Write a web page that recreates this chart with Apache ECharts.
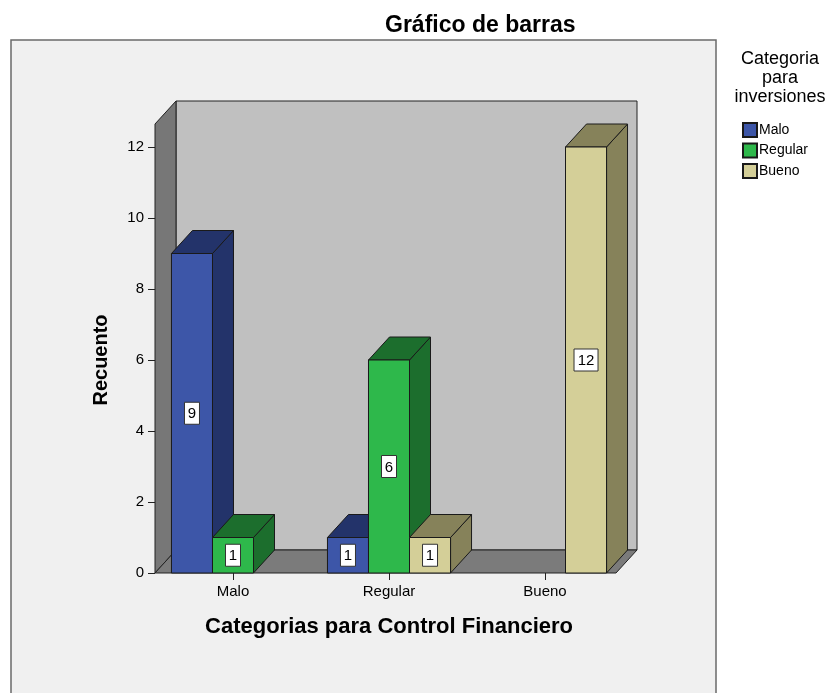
<!DOCTYPE html>
<html>
<head>
<meta charset="utf-8">
<script src="https://cdn.jsdelivr.net/npm/echarts@6/dist/echarts.min.js"></script>
<style>
  html, body { margin: 0; padding: 0; background: #ffffff; }
  #chart { width: 826px; height: 693px; }
</style>
</head>
<body>
<div id="chart"></div>
<script>
window.onload = function () {
    var chart = echarts.init(document.getElementById('chart'));

    // x categories (Control Financiero)
    var categories = ['Malo', 'Regular', 'Bueno'];
    // counts per legend category (inversiones)
    var maloValues = [9, 1, 0];
    var regularValues = [1, 6, 0];
    var buenoValues = [0, 1, 12];
    var yTicks = [0, 2, 4, 6, 8, 10, 12];

    var font = 'Liberation Sans';
    var DX = 21, DY = -23;

    var palette = [
        { name: 'Malo', front: '#3d56a8', dark: '#23336a' },
        { name: 'Regular', front: '#2eb84b', dark: '#1c6e2d' },
        { name: 'Bueno', front: '#d4cf98', dark: '#86825a' }
    ];

    var toData = function (values) {
        var res = [];
        for (var i = 0; i < values.length; i++) {
            res.push([i, values[i]]);
        }
        return res;
    };

    var makeBar = function (slot) {
        var col = palette[slot];
        return function (params, api) {
            var cat = api.value(0), val = api.value(1);
            if (!val) return;
            var band = api.size([1, 0])[0];
            var w = band * 0.263;
            var base = api.coord([cat, 0]);
            var top = api.coord([cat, val]);
            var x0 = base[0] - 1.5 * w + slot * w;
            var x1 = x0 + w;
            var yb = base[1], yt = top[1];
            var stroke = { stroke: '#1a1a1a', lineWidth: 1 };
            var txt = String(val);
            var bw = txt.length > 1 ? 24 : 15;
            var ym = (yb + yt) / 2;
            var xm = (x0 + x1) / 2;
            return {
                type: 'group',
                children: [{
                    type: 'polygon',
                    shape: { points: [[x1, yb], [x1 + DX, yb + DY], [x1 + DX, yt + DY], [x1, yt]] },
                    style: Object.assign({ fill: col.dark }, stroke)
                }, {
                    type: 'polygon',
                    shape: { points: [[x0, yt], [x0 + DX, yt + DY], [x1 + DX, yt + DY], [x1, yt]] },
                    style: Object.assign({ fill: col.dark }, stroke)
                }, {
                    type: 'rect',
                    shape: { x: x0, y: yt, width: w, height: yb - yt },
                    style: Object.assign({ fill: col.front }, stroke)
                }, {
                    type: 'rect',
                    shape: { x: xm - bw / 2, y: ym - 11, width: bw, height: 22 },
                    style: { fill: '#ffffff', stroke: '#333333', lineWidth: 1 }
                }, {
                    type: 'text',
                    style: {
                        text: txt, x: xm, y: ym + 1, align: 'center', verticalAlign: 'middle',
                        fill: '#000000', font: '15px ' + font
                    }
                }]
            };
        };
    };

    var renderWalls = function (params, api) {
        var cs = params.coordSys;
        var x = cs.x, y = cs.y, h = cs.height, w = cs.width - 7;
        var stroke = { stroke: '#222222', lineWidth: 1 };
        return {
            type: 'group',
            silent: true,
            children: [{
                type: 'rect',
                shape: { x: x + DX, y: y + 2 * DY, width: w, height: h - DY },
                style: Object.assign({ fill: '#c0c0c0' }, stroke)
            }, {
                type: 'polygon',
                shape: { points: [[x, y + DY], [x + DX, y + 2 * DY], [x + DX, y + h + DY], [x, y + h]] },
                style: Object.assign({ fill: '#777777' }, stroke)
            }, {
                type: 'polygon',
                shape: { points: [[x, y + h], [x + DX, y + h + DY], [x + w + DX, y + h + DY], [x + w, y + h]] },
                style: Object.assign({ fill: '#7b7b7b' }, stroke)
            }]
        };
    };

    var seriesValues = [maloValues, regularValues, buenoValues];
    var series = [{
        name: 'walls',
        type: 'custom',
        renderItem: renderWalls,
        data: [[0, 0]],
        z: 1,
        silent: true
    }];
    for (var s = 0; s < 3; s++) {
        series.push({
            name: palette[s].name,
            type: 'custom',
            renderItem: makeBar(s),
            data: toData(seriesValues[s]),
            itemStyle: { color: palette[s].front, borderColor: '#1a1a1a', borderWidth: 1 },
            z: 2 + s
        });
    }

    option = {
        animation: false,
        title: {
            text: 'Gráfico de barras',
            left: 380,
            top: 9,
            textStyle: { fontFamily: font, fontSize: 23, fontWeight: 'bold', color: '#000' }
        },
        graphic: [{
            type: 'rect',
            z: -10,
            shape: { x: 11, y: 40, width: 705, height: 700 },
            style: { fill: '#f0f0f0', stroke: '#6a6a6a', lineWidth: 1.5 }
        }, {
            type: 'text',
            x: 780,
            y: 50,
            style: {
                text: 'Categoria\npara\ninversiones',
                x: 0,
                y: 0,
                align: 'center',
                verticalAlign: 'top',
                font: '18px ' + font,
                lineHeight: 19,
                fill: '#000'
            }
        }],
        legend: {
            orient: 'vertical',
            left: 737,
            top: 117,
            itemWidth: 14,
            itemHeight: 14,
            itemGap: 4.5,
            icon: 'rect',
            data: ['Malo', 'Regular', 'Bueno'],
            textStyle: { fontFamily: font, fontSize: 14, color: '#000', padding: [0, 0, 0, -3] }
        },
        grid: { left: 155, top: 147, width: 468, height: 426 },
        xAxis: {
            type: 'category',
            data: categories,
            name: 'Categorias para Control Financiero',
            nameLocation: 'middle',
            nameGap: 43,
            nameTextStyle: { fontFamily: font, fontSize: 22, fontWeight: 'bold', color: '#000' },
            axisLine: { show: false },
            axisTick: { show: true, alignWithLabel: true, length: 7, lineStyle: { color: '#222' } },
            axisLabel: { fontFamily: font, fontSize: 15, color: '#000', margin: 11 },
            splitLine: { show: false }
        },
        yAxis: {
            type: 'value',
            min: yTicks[0],
            max: yTicks[yTicks.length - 1],
            interval: 2,
            name: 'Recuento',
            nameLocation: 'middle',
            nameGap: 44,
            nameTextStyle: { fontFamily: font, fontSize: 20, fontWeight: 'bold', color: '#000' },
            axisLine: { show: false },
            axisTick: { show: true, length: 7, lineStyle: { color: '#222' } },
            axisLabel: { fontFamily: font, fontSize: 15, color: '#000', margin: 11 },
            splitLine: { show: false }
        },
        series: series
    };
    chart.setOption(option);
};
</script>
</body>
</html>
